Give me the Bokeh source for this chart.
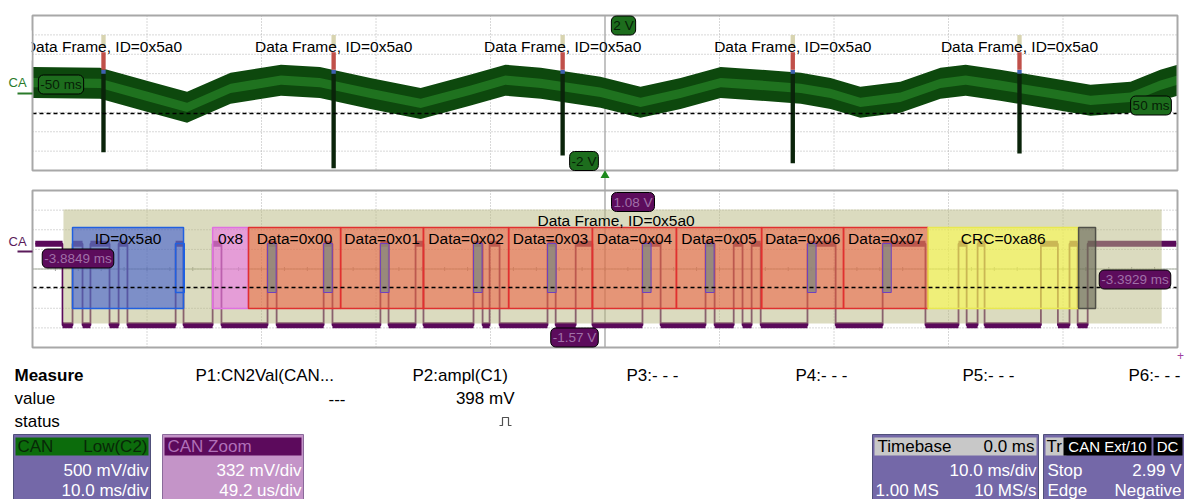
import numpy as np
from bokeh.plotting import figure
from bokeh.models import Range1d
from bokeh.embed import file_html
from bokeh.resources import INLINE
from bokeh.core.properties import value

FONT = "Liberation Sans"

# Upper view: CAN Low (C2), 10 ms/div, 500 mV/div -- centre of the noisy band
top_time_ms = [-50.0, -44.1, -39.7, -36.5, -32.7, -28.3, -24.9, -20.5, -16.1, -11.8,
               -8.7, -5.6, -0.4, 3.1, 6.6, 10.1, 13.6, 17.1, 19.7, 22.3,
               25.8, 29.3, 31.5, 34.5, 38.9, 42.4, 45.9, 48.5, 50.0]
top_level_v = [0.27, 0.25, -0.11, -0.37, 0.12, 0.33, 0.27, -0.01, -0.27, 0.07,
               0.33, 0.25, 0.02, -0.24, -0.01, 0.27, 0.20, 0.12, -0.01, -0.24,
               -0.11, 0.25, 0.33, 0.20, -0.01, -0.19, -0.11, 0.20, 0.33]
frame_time_ms = [-43.8, -23.7, -3.7, 16.4, 36.2]
frame_low_v = [-1.53, -1.94, -1.61, -1.81, -1.56]
frame_label = "Data Frame, ID=0x5a0"

# Lower view: CAN Zoom, 49.2 us/div, 332 mV/div (time from left edge, us)
can_edges_us = [12.9, 17.2, 21.5, 24.9, 33.1, 37.0, 40.8, 61.5, 64.9, 77.4,
                81.2, 101.0, 104.9, 125.1, 128.9, 149.5, 153.0, 164.6, 168.0, 189.5,
                193.4, 196.4, 200.7, 221.3, 224.8, 233.4, 240.6, 262.1, 269.9, 289.2,
                293.1, 301.3, 305.1, 309.0, 312.9, 333.0, 345.1, 365.3, 383.7, 397.9,
                401.4, 406.1, 409.1, 433.3, 440.6, 445.6, 449.1, 453.4]
can_high_v = 0.18
can_low_v = -1.20
seg_names = ["ID=0x5a0", "0x8", "Data=0x00", "Data=0x01", "Data=0x02", "Data=0x03",
             "Data=0x04", "Data=0x05", "Data=0x06", "Data=0x07", "CRC=0xa86", ""]
seg_kind = ["id", "dlc", "data", "data", "data", "data", "data", "data", "data", "data",
            "crc", "ack"]
seg_start_us = [17.2, 77.4, 92.8, 132.4, 168.0, 204.6, 240.6, 276.7, 313.3, 348.5, 384.8, 449.5]
seg_end_us = [64.9, 92.8, 132.4, 168.0, 204.6, 240.6, 276.7, 313.3, 348.5, 384.8, 449.5, 456.8]
id_stuff_us = [61.5]
stuff_start_us = [101.0, 125.1, 149.5, 189.5, 221.3, 262.1, 289.2, 333.0, 365.3]
stuff_len_us = 3.7
frame_span_us = [13.3, 485.2]

# badges / annotations
top_badges = ["2 V", "-2 V", "-50 ms", "50 ms"]
bot_badges = ["1.08 V", "-1.57 V", "-3.8849 ms", "-3.3929 ms"]

measure_heads = ["P1:CN2Val(CAN...", "P2:ampl(C1)", "P3:- - -", "P4:- - -", "P5:- - -", "P6:- - -"]
measure_values = ["---", "398 mV"]

# ---------------- layout constants (pixels) ----------------
W, H = 1184, 499
GX0, GX1 = 32.0, 1177.0
TY0, TY1 = 15.0, 170.0
BY0, BY1 = 190.0, 347.0
CX = (GX0 + GX1) / 2

p = figure(width=W, height=H, x_range=Range1d(0, W), y_range=Range1d(H, 0),
           output_backend="svg", toolbar_location=None, min_border=0,
           x_axis_location=None, y_axis_location=None)
p.grid.visible = False
p.outline_line_color = None
p.background_fill_color = "white"
p.border_fill_color = "white"

# ranges for the traces
ms_px = (GX1 - GX0) / 100.0
tcy = (TY0 + TY1) / 2
v_px_top = (TY1 - TY0) / 8 / 0.5
p.extra_x_ranges["tt"] = Range1d(-50 + (0 - GX0) / ms_px, -50 + (W - GX0) / ms_px)
p.extra_y_ranges["tv"] = Range1d((tcy - H) / v_px_top, (tcy - 0) / v_px_top)
us_px = (GX1 - GX0) / 492.0
v_px_bot = (BY1 - BY0) / (8 * 0.332)
def bv(y):
    return 1.08 - (y - BY0) / v_px_bot
def tv(y):
    return (tcy - y) / v_px_top
p.extra_x_ranges["bt"] = Range1d((0 - GX0) / us_px, (W - GX0) / us_px)
p.extra_y_ranges["bv"] = Range1d(bv(H), bv(0))

T = dict(x_range_name="tt", y_range_name="tv")
B = dict(x_range_name="bt", y_range_name="bv")

# ---------------- grids ----------------
for (y0, y1) in [(TY0, TY1), (BY0, BY1)]:
    dv = (y1 - y0) / 8
    xs = [GX0 + k * (GX1 - GX0) / 10 for k in range(1, 10) if k != 5]
    p.segment(x0=xs, y0=[y0] * len(xs), x1=xs, y1=[y1] * len(xs),
              line_color="#b0b0b0", line_dash="1 2", line_width=1)
    ys = [y0 + k * dv for k in range(1, 8)]
    p.segment(x0=[GX0] * 7, y0=ys, x1=[GX1] * 7, y1=ys,
              line_color="#b0b0b0", line_dash="1 2", line_width=1)
    yc = (y0 + y1) / 2
    tx = [GX0 + k * (GX1 - GX0) / 50 for k in range(1, 50)]
    p.segment(x0=tx, y0=[yc - 2] * len(tx), x1=tx, y1=[yc + 2] * len(tx),
              line_color="#a0a0a0", line_width=1)
p.segment(x0=[GX0], y0=[(BY0 + BY1) / 2], x1=[GX1], y1=[(BY0 + BY1) / 2],
          line_color="#a8b0a0", line_width=1.2)
p.segment(x0=[CX], y0=[TY0], x1=[CX], y1=[BY1], line_color="#9a9a9a", line_width=1.2)

# ---------------- upper trace ----------------
c = np.array(top_level_v)
p.varea(x=top_time_ms, y1=list(c - 0.40), y2=list(c + 0.40), fill_color="#0d480d", **T)
p.varea(x=top_time_ms, y1=list(c - 0.12), y2=list(c + 0.12), fill_color="#1f721f", **T)
ft = np.array(frame_time_ms)
hw = 0.19
p.quad(left=list(ft - hw), right=list(ft + hw), bottom=frame_low_v, top=[0.50] * 5,
       fill_color="#0a240a", line_color=None, **T)
p.quad(left=list(ft - hw), right=list(ft + hw), bottom=[0.50] * 5, top=[0.60] * 5,
       fill_color="#4060b0", line_color=None, **T)
p.quad(left=list(ft - hw), right=list(ft + hw), bottom=[0.60] * 5, top=[1.05] * 5,
       fill_color="#c0504a", line_color=None, **T)
p.quad(left=list(ft - hw), right=list(ft + hw), bottom=[1.18] * 5, top=[1.50] * 5,
       fill_color="#d8d4b0", line_color=None, **T)
p.text(x=frame_time_ms, y=[tv(46)] * 5, text=[frame_label] * 5, text_font=value(FONT),
       text_font_size="15.5px", text_align="center", text_baseline="middle",
       text_color="black", **T)
p.segment(x0=[GX0], y0=[113], x1=[GX1], y1=[113], line_color="black",
          line_dash="4 3", line_width=1.5)

# ---------------- lower trace ----------------
xs, ys = [1.2], [can_high_v]
lev = can_high_v
for e in can_edges_us:
    xs.append(e); ys.append(lev)
    lev = can_low_v if lev == can_high_v else can_high_v
    xs.append(e); ys.append(lev)
xs.append(491.5); ys.append(lev)
p.line(x=xs, y=ys, line_color="#5a0a5a", line_width=1.8, **B)
# level plateaus drawn thicker (noise fuzz of the real trace)
hx0 = xs[0::2]
hx1 = xs[1::2]
hy = ys[0::2]
p.segment(x0=hx0, y0=hy, x1=hx1, y1=hy, line_color="#5a0a5a", line_width=6, **B)

p.quad(left=[frame_span_us[0]], right=[frame_span_us[1]], bottom=[bv(323)], top=[bv(209)],
       fill_color="#b8b880", fill_alpha=0.5, line_color=None, **B)
kind_fill = {"id": "#3050d0", "dlc": "#f060f0", "data": "#f05030", "crc": "#ffff40", "ack": "#606050"}
kind_line = {"id": "#2060e0", "dlc": "#e070e0", "data": "#e03030", "crc": "#e8e850", "ack": "#505048"}
kind_alpha = {"id": 0.55, "dlc": 0.5, "data": 0.5, "crc": 0.55, "ack": 0.6}
for s, e, k in zip(seg_start_us, seg_end_us, seg_kind):
    p.quad(left=[s], right=[e], bottom=[bv(308)], top=[bv(227)], fill_color=kind_fill[k],
           fill_alpha=kind_alpha[k], line_color=kind_line[k], line_width=1.5, **B)
st = np.array(stuff_start_us)
p.quad(left=list(st), right=list(st + stuff_len_us), bottom=[bv(292)] * len(st),
       top=[bv(243)] * len(st), fill_color="#86867c", fill_alpha=0.8,
       line_color="#7040c0", line_width=1, **B)
p.quad(left=id_stuff_us, right=[id_stuff_us[0] + stuff_len_us], bottom=[bv(292)],
       top=[bv(243)], fill_alpha=0, line_color="#2060e0", line_width=1.5, **B)
p.segment(x0=[GX0], y0=[287], x1=[GX1], y1=[287], line_color="black",
          line_dash="4 3", line_width=1.5)
mid = [(s + e) / 2 for s, e in zip(seg_start_us, seg_end_us)]
p.text(x=mid, y=[bv(238)] * len(mid), text=seg_names, text_font=value(FONT),
       text_font_size="15.5px", text_align="center", text_baseline="middle",
       text_color="black", **B)
p.text(x=[(frame_span_us[0] + frame_span_us[1]) / 2 + 1.5], y=[bv(220)], text=[frame_label],
       text_font=value(FONT), text_font_size="15.5px", text_align="center",
       text_baseline="middle", text_color="black", **B)

# frame borders
for (y0, y1) in [(TY0, TY1), (BY0, BY1)]:
    p.quad(left=[GX0], right=[GX1], bottom=[y1], top=[y0], fill_alpha=0,
           line_color="#a8a8a8", line_width=2)

# mask clipped label at left of upper grid
p.quad(left=[0], right=[GX0 - 1], bottom=[60], top=[30], fill_color="white", line_color=None)

# channel markers
p.text(x=[8], y=[82], text=["CA"], text_font=value(FONT), text_font_size="13px",
       text_align="left", text_baseline="middle", text_color="#2a7a2a")
p.segment(x0=[17], y0=[93], x1=[GX0], y1=[93], line_color="#2a7a2a", line_width=2)
p.text(x=[8], y=[241], text=["CA"], text_font=value(FONT), text_font_size="13px",
       text_align="left", text_baseline="middle", text_color="#5a1a5a")
p.segment(x0=[17], y0=[251], x1=[GX0], y1=[251], line_color="#5a1a5a", line_width=2)
p.scatter(x=[CX], y=[175], marker="triangle", size=9, fill_color="#1e8a1e", line_color=None)

# badges
def badge(x, y, txt, fill, col):
    p.text(x=x, y=y, text=txt, text_font=value(FONT), text_font_size="13.5px",
           text_align="center", text_baseline="middle", text_color=col,
           background_fill_color=fill, border_line_color="black", border_line_width=1,
           border_radius=5, padding=2)
badge([623, 583.5, 60.5, 1150.5], [25, 160.5, 84, 105], top_badges, "#1d6d1d", "#062006")
badge([632.5, 574, 77.5, 1134.5], [201.5, 337, 258, 279], bot_badges, "#5c0c5c", "#a070a8")

# ---------------- measurement table ----------------
p.text(x=[14], y=[375], text=["Measure"], text_font=value(FONT), text_font_size="17px",
       text_font_style="bold", text_align="left", text_baseline="middle", text_color="black")
p.text(x=[14, 14], y=[398, 421], text=["value", "status"], text_font=value(FONT),
       text_font_size="17px", text_align="left", text_baseline="middle", text_color="black")
p.text(x=[195, 412, 626, 795, 962, 1128], y=[375] * 6, text=measure_heads,
       text_font=value(FONT), text_font_size="17px", text_align="left",
       text_baseline="middle", text_color="black")
p.text(x=[345, 514], y=[398, 398], text=measure_values, text_font=value(FONT),
       text_font_size="17px", text_align="right", text_baseline="middle", text_color="black")
p.line(x=[499, 502, 502, 508, 508, 511], y=[425, 425, 417, 417, 425, 425],
       line_color="#505050", line_width=1.2)
p.text(x=[1180], y=[355], text=["+"], text_font=value(FONT), text_font_size="12px",
       text_align="center", text_baseline="middle", text_color="#a040a0")

# ---------------- bottom panels ----------------
def ptext(x, y, t, align, col, size="17px"):
    p.text(x=[x], y=[y], text=[t], text_font=value(FONT), text_font_size=size,
           text_align=align, text_baseline="middle", text_color=col)

p.quad(left=[13], right=[150], top=[434], bottom=[500], fill_color="#7468a8", line_color="#50507a")
p.quad(left=[15], right=[148], top=[437], bottom=[455], fill_color="#0c6c0c", line_color=None)
ptext(17, 446, "CAN", "left", "#082808")
ptext(147, 446, "Low(C2)", "right", "#082808")
ptext(148, 470, "500 mV/div", "right", "white")
ptext(148, 490, "10.0 ms/div", "right", "white")

p.quad(left=[162], right=[303], top=[434], bottom=[500], fill_color="#c494c8", line_color="#8a6a9a")
p.quad(left=[164], right=[301], top=[437], bottom=[455], fill_color="#5c0a5c", line_color=None)
ptext(167, 446, "CAN Zoom", "left", "#b070b8")
ptext(301, 470, "332 mV/div", "right", "white")
ptext(301, 490, "49.2 us/div", "right", "white")

p.quad(left=[872], right=[1038], top=[434], bottom=[500], fill_color="#7468a8", line_color="#50507a")
p.quad(left=[874], right=[1036], top=[437], bottom=[455], fill_color="#c8c8c8", line_color=None)
ptext(877, 446, "Timebase", "left", "black")
ptext(1034, 446, "0.0 ms", "right", "black")
ptext(1036, 470, "10.0 ms/div", "right", "white")
ptext(875, 490, "1.00 MS", "left", "white")
ptext(1036, 490, "10 MS/s", "right", "white")

p.quad(left=[1043], right=[1190], top=[434], bottom=[500], fill_color="#7468a8", line_color="#50507a")
p.quad(left=[1045], right=[1066], top=[437], bottom=[455], fill_color="#c8c8c8", line_color=None)
ptext(1046, 446, "Tr", "left", "black")
p.quad(left=[1063, 1153], right=[1151, 1182], top=[437, 437], bottom=[455, 455],
       fill_color="black", line_color=None)
ptext(1107, 446, "CAN Ext/10", "center", "white", "15px")
ptext(1167, 446, "DC", "center", "white", "15px")
ptext(1047, 470, "Stop", "left", "white")
ptext(1181, 470, "2.99 V", "right", "white")
ptext(1047, 490, "Edge", "left", "white")
ptext(1181, 490, "Negative", "right", "white")

open("out.html", "w").write(file_html(p, INLINE))
